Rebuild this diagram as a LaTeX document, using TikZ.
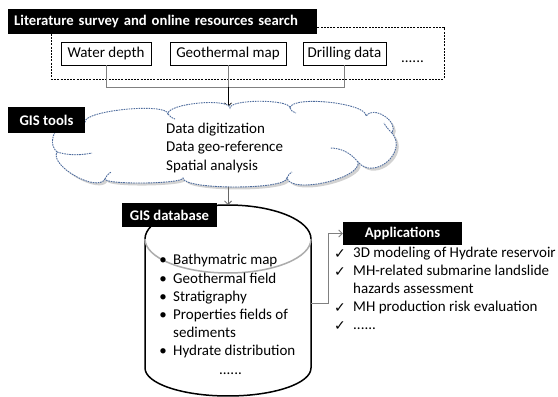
\documentclass[tikz,border=0pt]{standalone}
\usepackage{fontspec}
\setmainfont{Carlito}
\newfontfamily\symfont{DejaVu Sans}
\usetikzlibrary{shadows,arrows.meta}

\definecolor{cloudline}{RGB}{79,109,158}
\definecolor{linkgrey}{RGB}{128,128,128}
\definecolor{rimgrey}{RGB}{172,172,172}

\begin{document}
\begin{tikzpicture}[x=1pt,y=1pt,
  every node/.style={font=\fontsize{15}{18}\selectfont, inner sep=0pt},
  tagbox/.style={fill=black, text=white, font=\fontsize{14.7}{18}\selectfont\bfseries,
    inner xsep=6pt},
  srcbox/.style={draw=black, line width=0.8pt, minimum height=23pt},
  dashedframe/.style={draw=black, line width=0.8pt, dash pattern=on 2pt off 1.2pt},
  linkline/.style={draw=linkgrey, line width=0.8pt},
  tip/.style={-{Straight Barb[length=3.5pt,width=7pt]}},
  cloudedge/.style={draw=cloudline, line width=0.9pt, dash pattern=on 1.6pt off 0.9pt},
  itemtext/.style={anchor=mid west},
  checkmark/.style={anchor=mid, font=\symfont\fontsize{14}{16}\selectfont}]
\useasboundingbox[fill=white] (0,0) rectangle (558,397);

% ---- literature survey frame and sources
\node[dashedframe, minimum width=393pt, minimum height=52pt] (frame) at (247.5,344) {};
\node[tagbox, text width=297pt, minimum height=25pt, anchor=west, align=left] (survey) at (8,375.5)
  {Literature survey and online resources search};
\node[srcbox, minimum width=90pt] (water) at (106,343.5) {Water depth};
\node[srcbox, minimum width=116pt] (geo) at (228,343.5) {Geothermal map};
\node[srcbox, minimum width=83pt] (drill) at (344.5,343.5) {Drilling data};
\node[anchor=base] (moresrc) at (412.5,334) {......};

\coordinate (join) at (228,310);
\coordinate (cloudtop) at (228,290);
\coordinate (cloudbot) at (228,210);
\draw[linkline] (water.south) -- (water.south |- join) -- (drill.south |- join) -- (drill.south);
\draw[linkline] (geo.south) -- (join);
\draw[tip, black, line width=0.8pt] (join) -- (cloudtop);

% ---- GIS tools cloud
\path[fill=white, cloudedge,
      drop shadow={shadow xshift=2.5pt, shadow yshift=-2.5pt, opacity=0.35, fill=gray}]
  (57,245) .. controls (41.4,259.5) and (69.4,289.5) .. (85,275)
  .. controls (84,286.6) and (167,294.6) .. (168,283)
  .. controls (167,293.5) and (229,299.5) .. (230,289)
  .. controls (230,298) and (290,298) .. (290,289)
  .. controls (291.3,302) and (367.3,294) .. (366,281)
  .. controls (373.3,292.2) and (399.3,275.2) .. (392,264)
  .. controls (408.2,245) and (374.2,216) .. (358,235)
  .. controls (361.7,218.4) and (290.7,202.4) .. (287,219)
  .. controls (287,207) and (183,207) .. (183,219)
  .. controls (182.5,213) and (105.5,212) .. (105,218)
  .. controls (97.2,204.1) and (49.2,231.1) .. (57,245) -- cycle;
% inner folds of the cloud
\draw[cloudedge] (57,245) .. controls (70,241) and (82,242) .. (92,244);
\draw[cloudedge] (358,235) .. controls (350,245) and (340,249) .. (330,249);
\draw[cloudedge] (392,264) .. controls (388,268) and (386,270) .. (384,274);
\draw[cloudedge] (105,218) .. controls (106,221) and (108,223) .. (111,225);
\draw[cloudedge] (287,219) .. controls (288,222) and (290,224) .. (292,225);
\draw[cloudedge] (168,283) .. controls (170,280) and (172,279) .. (175,278);
\draw[cloudedge] (290,289) .. controls (291,286) and (293,285) .. (296,284);

\node[tagbox, minimum width=77pt, minimum height=26pt, inner xsep=0pt] (tools) at (46.5,277) {GIS tools};
\node[itemtext] (dig) at (166,266) {Data digitization};
\node[itemtext] (georef) at (166,247.5) {Data geo-reference};
\node[itemtext] (spatial) at (166,229) {Spatial analysis};

% ---- GIS database cylinder
\draw[black, line width=1.5pt] (145,158) arc[start angle=180, end angle=0, x radius=83, y radius=34];
\draw[black, line width=1.5pt] (145,158) -- (145,29)
  arc[start angle=180, end angle=360, x radius=83, y radius=28] -- (311,158);
\draw[rimgrey, line width=1.5pt] (145,158) arc[start angle=180, end angle=360, x radius=83, y radius=34];
\coordinate (cyltop) at (228,192);
\coordinate (cylright) at (311,94);
\coordinate (bend) at (328,94);

\draw[tip, draw=linkgrey!80!black, line width=0.8pt] (cloudbot) -- (cyltop);
\node[tagbox, minimum width=95pt, minimum height=24pt, inner xsep=0pt] (db) at (169.5,182) {GIS database};

\node[anchor=mid] (b1) at (163,135) {•};
\node[itemtext] (d1) at (173,135) {Bathymatric map};
\node[anchor=mid] (b2) at (163,116) {•};
\node[itemtext] (d2) at (173,116) {Geothermal field};
\node[anchor=mid] (b3) at (163,98) {•};
\node[itemtext] (d3) at (173,98) {Stratigraphy};
\node[anchor=mid] (b4) at (163,80) {•};
\node[itemtext] (d4) at (173,80) {Properties fields of};
\node[itemtext] (d4b) at (173,62) {sediments};
\node[anchor=mid] (b5) at (163,44) {•};
\node[itemtext] (d5) at (173,44) {Hydrate distribution};
\node[anchor=base] (dmore) at (230.5,22) {......};

% ---- applications
\node[tagbox, minimum width=119pt, minimum height=23pt, inner xsep=0pt] (apps) at (402.5,163.5) {Applications};
\draw[linkline, tip] (cylright) -- (bend) |- (apps.west);

\node[checkmark] (c1) at (340,141) {✓};
\node[itemtext] (a1) at (353,142) {3D modeling of Hydrate reservoir};
\node[checkmark] (c2) at (340,123) {✓};
\node[itemtext] (a2) at (353,124) {MH-related submarine landslide};
\node[itemtext] (a2b) at (353,106) {hazards assessment};
\node[checkmark] (c3) at (340,87) {✓};
\node[itemtext] (a3) at (353,88) {MH production risk evaluation};
\node[checkmark] (c4) at (340,69) {✓};
\node[anchor=base west] (a4) at (353,67) {......};
\end{tikzpicture}
\end{document}
